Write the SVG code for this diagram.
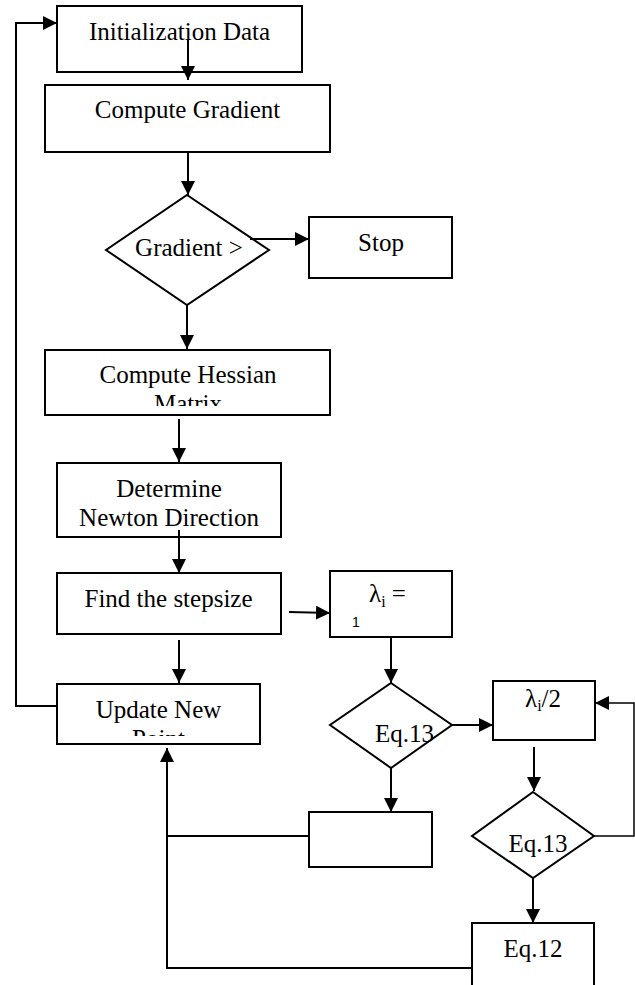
<svg xmlns="http://www.w3.org/2000/svg" width="635" height="985" viewBox="0 0 635 985">
<style>
.box{fill:#fff;stroke:#000;stroke-width:2}
.t{font-family:"Liberation Serif","Times New Roman",serif;font-size:25px;fill:#000}
.c{text-anchor:middle}
.ln{fill:none;stroke:#000;stroke-width:2}
.lt{fill:none;stroke:#000;stroke-width:1.5}
</style>
<defs>
<marker id="ah" markerUnits="userSpaceOnUse" markerWidth="14" markerHeight="14" viewBox="0 0 14 14" refX="14" refY="7" orient="auto">
<path d="M0,0 L14,7 L0,14 z" fill="#000"/>
</marker>
<clipPath id="clipH"><rect x="45" y="350" width="285" height="56"/></clipPath>
<clipPath id="clipU"><rect x="57" y="684" width="203" height="52"/></clipPath>
</defs>
<rect width="635" height="985" fill="#fff"/>

<g id="init"><rect class="box" x="57" y="6" width="245" height="66"/><text class="t c" x="179.5" y="40">Initialization Data</text></g>
<g id="grad"><rect class="box" x="45" y="85" width="285" height="67"/><text class="t c" x="187.5" y="118">Compute Gradient</text></g>
<g id="dec1"><polygon class="box" points="187,195 269,250 187,305 106,250"/><text class="t c" x="189" y="256">Gradient &gt;</text></g>
<g id="stop"><rect class="box" x="309" y="217" width="143" height="61"/><text class="t c" x="381" y="251">Stop</text></g>
<g id="hess"><rect class="box" x="45" y="350" width="285" height="65"/><g clip-path="url(#clipH)"><text class="t c" x="188" y="383">Compute Hessian</text><text class="t c" x="188" y="412">Matrix</text></g></g>
<g id="newton"><rect class="box" x="57" y="463" width="224" height="74"/><text class="t c" x="169" y="497">Determine</text><text class="t c" x="169" y="526">Newton Direction</text></g>
<g id="step"><rect class="box" x="57" y="573" width="224" height="61"/><text class="t c" x="168.5" y="607">Find the stepsize</text></g>
<g id="update"><rect class="box" x="57" y="684" width="203" height="60"/><g clip-path="url(#clipU)"><text class="t c" x="158.5" y="718">Update New</text><text class="t c" x="158.5" y="747">Point</text></g></g>
<g id="lam1"><rect class="box" x="330" y="571" width="122" height="66"/><text class="t" x="369" y="602">λ<tspan font-size="16" dy="5">i</tspan><tspan dy="-5"> =</tspan></text><text x="352" y="627" font-family="Liberation Sans, Arial, sans-serif" font-size="14">1</text></g>
<g id="eq13a"><polygon class="box" points="391,683 452,725 391,768 330,725"/><text class="t" x="375" y="742">Eq.13</text></g>
<g id="lam2"><rect class="box" x="493" y="681" width="102" height="59"/><text class="t" x="525" y="707">λ<tspan font-size="16" dy="4">i</tspan><tspan dy="-4">/2</tspan></text></g>
<g id="empty"><rect class="box" x="309" y="812" width="123" height="55"/></g>
<g id="eq13b"><polygon class="box" points="533,792 594,836 533,878 472,836"/><text class="t c" x="538" y="852">Eq.13</text></g>
<g id="eq12"><rect class="box" x="472" y="923" width="122" height="80"/><text class="t c" x="533" y="957">Eq.12</text></g>

<g id="connectors">
<path class="ln" d="M188,40 V80" marker-end="url(#ah)"/>
<path class="ln" d="M188,152 V195" marker-end="url(#ah)"/>
<path class="ln" d="M250,239 H309" marker-end="url(#ah)"/>
<path class="ln" d="M187,305 V349" marker-end="url(#ah)"/>
<path class="ln" d="M179,419 V462" marker-end="url(#ah)"/>
<path class="ln" d="M179,530 V573" marker-end="url(#ah)"/>
<path class="ln" d="M179,640 V683" marker-end="url(#ah)"/>
<path class="ln" d="M289,612 L330,613" marker-end="url(#ah)"/>
<path class="ln" d="M391,637 V683" marker-end="url(#ah)"/>
<path class="ln" d="M452,725 H493" marker-end="url(#ah)"/>
<path class="ln" d="M534,747 V791" marker-end="url(#ah)"/>
<path class="lt" d="M594,836 H634 V703 H595" marker-end="url(#ah)"/>
<path class="ln" d="M533,878 V923" marker-end="url(#ah)"/>
<path class="ln" d="M391,768 V812" marker-end="url(#ah)"/>
<path class="ln" d="M472,968 H167 V748" marker-end="url(#ah)"/>
<path class="ln" d="M309,836 H167"/>
<path class="ln" d="M57,706 H16 V23 H57" marker-end="url(#ah)"/>
</g>
</svg>
